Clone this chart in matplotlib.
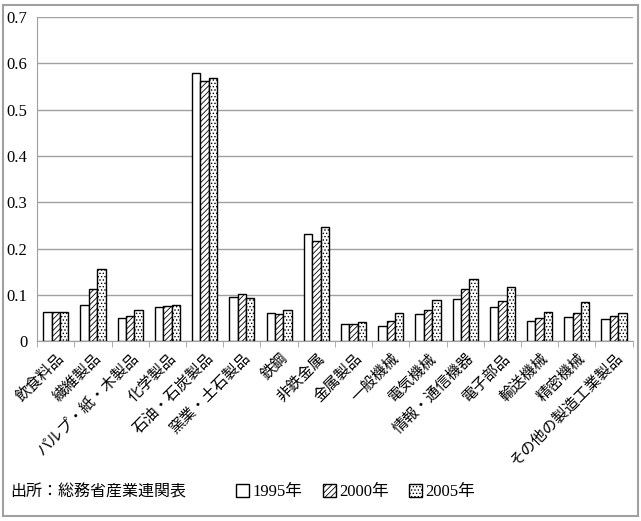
import numpy as np
import matplotlib
matplotlib.use("Agg")
import matplotlib.pyplot as plt
from matplotlib.patches import Patch, Rectangle

plt.rcParams['font.family'] = ['Liberation Serif', 'Noto Sans CJK JP']
plt.rcParams['hatch.linewidth'] = 0.6

categories = ['飲食料品', '繊維製品', 'パルプ・紙・木製品', '化学製品', '石油・石炭製品',
              '窯業・土石製品', '鉄鋼', '非鉄金属', '金属製品', '一般機械', '電気機械',
              '情報・通信機器', '電子部品', '輸送機械', '精密機械', 'その他の製造工業製品']
v1995 = [0.064, 0.078, 0.050, 0.073, 0.579, 0.095, 0.060, 0.231,
         0.037, 0.033, 0.058, 0.092, 0.073, 0.043, 0.053, 0.047]
v2000 = [0.063, 0.112, 0.055, 0.076, 0.563, 0.103, 0.058, 0.216,
         0.037, 0.044, 0.067, 0.113, 0.086, 0.051, 0.062, 0.055]
v2005 = [0.064, 0.155, 0.067, 0.078, 0.569, 0.094, 0.067, 0.246,
         0.041, 0.060, 0.089, 0.135, 0.118, 0.063, 0.084, 0.062]
years = ['1995年', '2000年', '2005年']
hatches = ['', '//////', '.....']

fig = plt.figure(figsize=(6.41, 5.21), dpi=100)
ax = fig.add_axes([0.058, 0.345, 0.929, 0.622])

x = np.arange(len(categories))
w = 0.225
for i, (vals, h) in enumerate(zip([v1995, v2000, v2005], hatches)):
    ax.bar(x + (i - 1) * w, vals, w, facecolor='white', edgecolor='black',
           hatch=h, linewidth=1.0, zorder=3)

ax.set_xlim(-0.5, len(categories) - 0.5)
ax.set_ylim(0, 0.7)
ax.set_yticks(np.arange(0, 0.71, 0.1))
ax.set_yticklabels(['0'] + ['%.1f' % v for v in np.arange(0.1, 0.71, 0.1)], fontsize=12)
ax.tick_params(axis='y', length=0, pad=7)
ax.grid(axis='y', color='#a0a0a0', linewidth=1.0, zorder=0)

ax.set_xticks(np.arange(-0.5, len(categories) - 0.4, 1), minor=True)
ax.set_xticks(x)
ax.set_xticklabels(categories, rotation=45, ha='right', va='top',
                   rotation_mode='anchor', fontsize=11, family=['Noto Sans CJK JP'])
ax.tick_params(axis='x', which='major', length=0, pad=6)
ax.tick_params(axis='x', which='minor', length=4, color='#a0a0a0')

for s in ['top', 'right']:
    ax.spines[s].set_visible(False)
ax.spines['left'].set_color('#a0a0a0')
ax.spines['bottom'].set_color('#a0a0a0')

fig.text(0.016, 0.055, '出所：総務省産業連関表', fontsize=11.5,
         family=['Noto Sans CJK JP'], va='center')
handles = [Patch(facecolor='white', edgecolor='black', hatch=h, label=y)
           for h, y in zip(hatches, years)]
fig.legend(handles=handles, loc='center left', bbox_to_anchor=(0.345, 0.055),
           ncol=3, frameon=False, handlelength=0.8, handleheight=0.8,
           handletextpad=0.2, columnspacing=1.2,
           prop={'family': ['Liberation Serif', 'Noto Sans CJK JP'], 'size': 12})

fig.patches.append(Rectangle((0.005, 0.01), 0.99, 0.98, transform=fig.transFigure,
                             fill=False, edgecolor='#a0a0a0', linewidth=1.5))

fig.savefig('out.png', dpi=100)
